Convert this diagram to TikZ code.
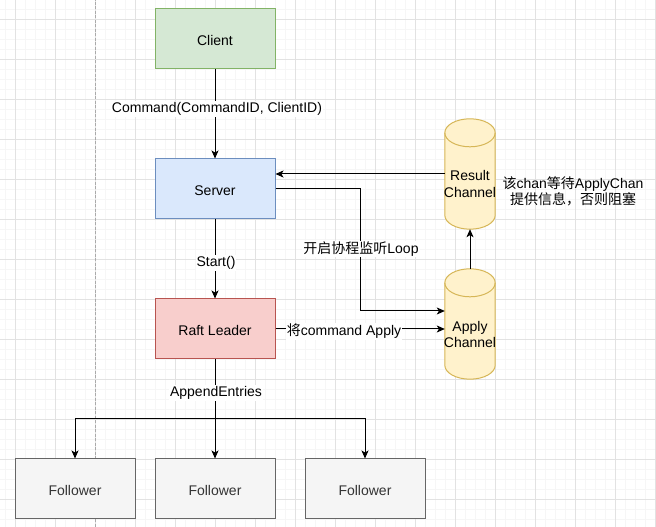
\documentclass[tikz,border=0pt]{standalone}
\usepackage{fontspec}
\setmainfont{Liberation Sans}
\newfontfamily\cjk{Noto Sans CJK SC}
\usetikzlibrary{arrows.meta}
\definecolor{gmin}{RGB}{246,246,246}
\definecolor{gmaj}{RGB}{226,226,226}
\definecolor{pageline}{RGB}{170,170,170}
\definecolor{clientfill}{HTML}{D5E8D4}
\definecolor{clientline}{HTML}{82B366}
\definecolor{serverfill}{HTML}{DAE8FC}
\definecolor{serverline}{HTML}{6C8EBF}
\definecolor{raftfill}{HTML}{F8CECC}
\definecolor{raftline}{HTML}{B85450}
\definecolor{folfill}{HTML}{F5F5F5}
\definecolor{folline}{HTML}{666666}
\definecolor{foltext}{HTML}{333333}
\definecolor{cylfill}{HTML}{FFF2CC}
\definecolor{cylline}{HTML}{D6B656}
\newcommand{\drawcylinder}[1]{%
  \path[fill=cylfill, draw=cylline, line width=1pt]
    ([yshift=-14pt]#1.north west) -- ([yshift=14pt]#1.south west)
    .. controls +(0,-7.73) and +(-13.81,0) .. (#1.south)
    .. controls +(13.81,0) and +(0,-7.73) .. ([yshift=14pt]#1.south east)
    -- ([yshift=-14pt]#1.north east)
    .. controls +(0,7.73) and +(13.81,0) .. (#1.north)
    .. controls +(-13.81,0) and +(0,7.73) .. ([yshift=-14pt]#1.north west) -- cycle;
  \draw[cylline, line width=1pt]
    ([yshift=-14pt]#1.north west)
    .. controls +(0,-7.73) and +(-13.81,0) .. ([yshift=-28pt]#1.north)
    .. controls +(13.81,0) and +(0,-7.73) .. ([yshift=-14pt]#1.north east);
}
\begin{document}
\begin{tikzpicture}[x=1pt, y=1pt,
  font=\fontsize{14}{16.5}\selectfont,
  box/.style={draw, line width=1pt, minimum width=120pt, minimum height=60pt, inner sep=0pt, text height=13pt, text depth=0pt},
  clientbox/.style={box, fill=clientfill, draw=clientline},
  serverbox/.style={box, fill=serverfill, draw=serverline},
  raftbox/.style={box, fill=raftfill, draw=raftline},
  folbox/.style={box, fill=folfill, draw=folline, text=foltext},
  cylbox/.style={minimum width=50pt, minimum height=110pt, inner sep=0pt},
  cyltext/.style={align=center, inner sep=0pt},
  arr/.style={draw, line width=1pt, -{Stealth[length=8pt, width=7pt, inset=2pt]}},
  lbl/.style={fill=white, inner sep=1pt},
  gridminor/.style={draw=gmin, line width=0.8pt},
  gridmajor/.style={draw=gmaj, line width=0.8pt}
]
\useasboundingbox (0,0) rectangle (656,527);
\fill[white] (0,0) rectangle (656,527);
% grid
\foreach \x in {5,15,...,655} \draw[gridminor] (\x,0) -- (\x,527);
\foreach \y in {8,18,...,518} \draw[gridminor] (0,\y) -- (656,\y);
\foreach \x in {15,55,...,655} \draw[gridmajor] (\x,0) -- (\x,527);
\foreach \y in {28,68,...,508} \draw[gridmajor] (0,\y) -- (656,\y);
\draw[pageline, line width=1pt, dash pattern=on 3pt off 1.5pt] (95,0) -- (95,527);

% nodes
\node[clientbox] (client) at (215,488) {Client};
\node[serverbox] (srv) at (215,338) {Server};
\node[raftbox] (raft) at (215,198) {Raft Leader};
\node[folbox] (f1) at (75,38) {Follower};
\node[folbox] (f2) at (215,38) {Follower};
\node[folbox] (f3) at (365,38) {Follower};

\node[cylbox] (rc) at (470,353) {};
\drawcylinder{rc}
\node[cyltext] (rct) at (470,343) {Result\\Channel};
\node[cylbox] (apc) at (470,203) {};
\drawcylinder{apc}
\node[cyltext] (apct) at (470,192.5) {Apply\\Channel};

\node[align=center, inner sep=0pt] (note) at (573,335.5) {{\cjk 该}chan{\cjk 等待}ApplyChan\\{\cjk 提供信息，否则阻塞}};

% connectors
\draw[arr] (client.south) -- (srv.north);
\node[lbl] (l1) at (217,418) {Command(CommandID, ClientID)};

\draw[arr] (srv.south) -- (raft.north);
\node[lbl] (l2) at (216,264) {Start()};

\coordinate (bend) at (360,338);
\draw[arr] (srv.east) -- (bend) |- ([yshift=13pt]apc.west);
\node[lbl] (l3) at (361,278) {{\cjk 开启协程监听}Loop};

\draw[arr] (raft.east) -- (raft.east -| apc.west);
\node[lbl] (l4) at (344,195.5) {{\cjk 将}command Apply};

\draw[arr] (apc.north) -- (rc.south);
\draw[arr] (rc.west) -- (rc.west -| srv.east);

\coordinate (split) at (215,108);
\draw[arr] (raft.south) -- (f2.north);
\draw[arr] (split) -| (f1.north);
\draw[arr] (split) -| (f3.north);
\node[lbl] (l5) at (216,134) {AppendEntries};
\end{tikzpicture}
\end{document}
